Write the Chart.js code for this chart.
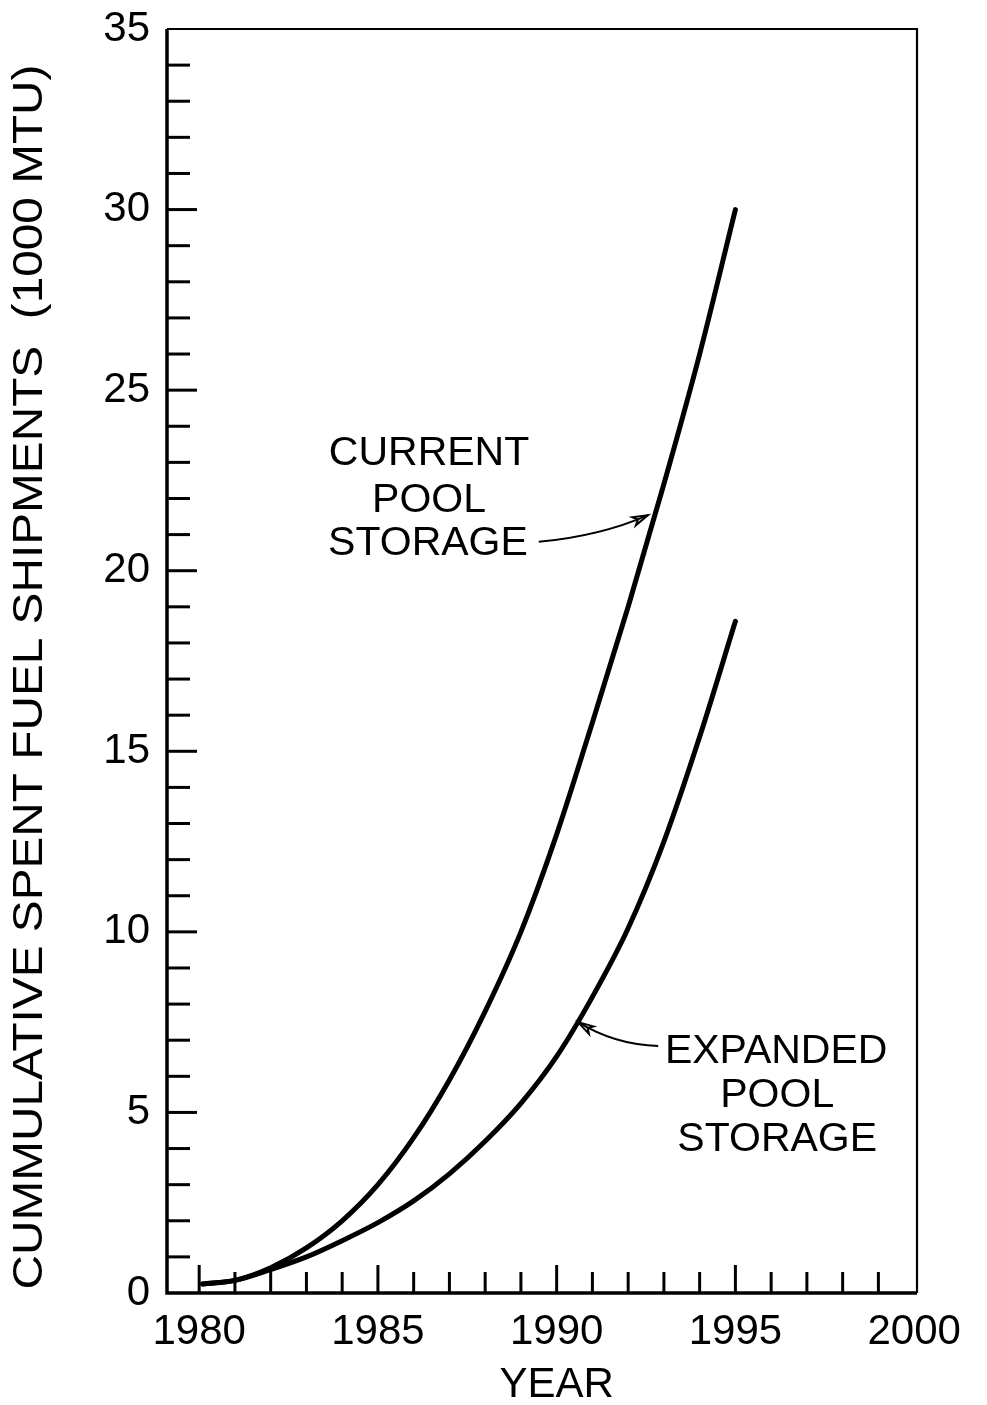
<!DOCTYPE html>
<html>
<head>
  <meta charset="utf-8">
  <title>Cummulative Spent Fuel Shipments</title>
  <script src="https://cdn.jsdelivr.net/npm/chart.js"></script>
  <style>
    html, body {
      margin: 0;
      padding: 0;
      background: #ffffff;
    }
  </style>
</head>
<body>
  <canvas id="fuelChart" width="987" height="1405"></canvas>

  <script>
    // values (1000 MTU)
    const years = [1980.1, 1981, 1982, 1983, 1984, 1985, 1986, 1987, 1988, 1989, 1990, 1991, 1992, 1993, 1994, 1995];
    const currentPool = [0.25, 0.35, 0.7, 1.25, 2.0, 3.0, 4.3, 5.9, 7.8, 10.0, 12.7, 15.8, 19.0, 22.4, 26.0, 30.0];
    const expandedPool = [0.25, 0.35, 0.65, 1.0, 1.45, 1.95, 2.55, 3.3, 4.2, 5.25, 6.55, 8.2, 10.1, 12.5, 15.4, 18.6];

    const xTickLabels = [1980, 1985, 1990, 1995, 2000];
    const yTickLabels = [0, 5, 10, 15, 20, 25, 30, 35];

    const xMinorTicks = [];
    for (let y = 1980; y <= 1999; y++) xMinorTicks.push(y);
    const yMinorTicks = [];
    for (let v = 1; v <= 34; v++) yMinorTicks.push(v);

    const FONT = '"Liberation Sans", Arial, sans-serif';

    function pts(vals) {
      return years.map((yr, i) => ({ x: yr, y: vals[i] }));
    }

    // axes frame, inward ticks, axis titles and the two callouts
    const paperPlugin = {
      id: 'paper',
      afterDraw(chart) {
        const ctx = chart.ctx;
        const xs = chart.scales.x, ys = chart.scales.y;
        const a = chart.chartArea;
        ctx.save();
        ctx.strokeStyle = '#000';
        ctx.fillStyle = '#000';
        ctx.lineCap = 'butt';

        // frame
        ctx.lineWidth = 3.5;
        ctx.beginPath();
        ctx.moveTo(a.left, a.top); ctx.lineTo(a.left, a.bottom); ctx.lineTo(a.right, a.bottom);
        ctx.stroke();
        ctx.lineWidth = 2.2;
        ctx.beginPath();
        ctx.moveTo(a.left, a.top); ctx.lineTo(a.right, a.top); ctx.lineTo(a.right, a.bottom);
        ctx.stroke();

        // y ticks
        ctx.lineWidth = 3;
        yMinorTicks.forEach(v => {
          const py = ys.getPixelForValue(v);
          const len = v % 5 === 0 ? 30 : 23;
          ctx.beginPath(); ctx.moveTo(a.left, py); ctx.lineTo(a.left + len, py); ctx.stroke();
        });
        // x ticks
        xMinorTicks.forEach(v => {
          const px = xs.getPixelForValue(v);
          const len = v % 5 === 0 ? 28 : 21;
          ctx.beginPath(); ctx.moveTo(px, a.bottom); ctx.lineTo(px, a.bottom - len); ctx.stroke();
        });

        // y title, squeezed to the length of the original lettering
        ctx.save();
        ctx.translate(30, 677);
        ctx.rotate(-Math.PI / 2);
        ctx.font = '42px ' + FONT;
        ctx.textAlign = 'center';
        ctx.textBaseline = 'middle';
        const title = 'CUMMULATIVE SPENT FUEL SHIPMENTS  (1000 MTU)';
        const w = ctx.measureText(title).width;
        ctx.scale(1225 / w, 1);
        ctx.fillText(title, 0, 0);
        ctx.restore();

        // x title
        ctx.font = '42px ' + FONT;
        ctx.textAlign = 'center';
        ctx.textBaseline = 'middle';
        ctx.fillText('YEAR', xs.getPixelForValue(1990), a.bottom + 92);

        // callout labels
        ctx.font = '41px ' + FONT;
        const labels = [
          ['CURRENT', 1986.43, 23.29], ['POOL', 1986.43, 21.99], ['STORAGE', 1986.40, 20.80],
          ['EXPANDED', 1996.14, 6.75], ['POOL', 1996.17, 5.53], ['STORAGE', 1996.17, 4.29]
        ];
        labels.forEach(([t, x, y]) => {
          ctx.fillText(t, xs.getPixelForValue(x), ys.getPixelForValue(y) + 2);
        });

        // callout arrows
        const arrows = [
          [[1989.50, 20.80], [1991.22, 20.96], [1992.56, 21.54]],
          [[1992.84, 6.84], [1991.64, 6.87], [1990.60, 7.50]]
        ];
        ctx.lineWidth = 2;
        arrows.forEach(([s, c, e]) => {
          const sx = xs.getPixelForValue(s[0]), sy = ys.getPixelForValue(s[1]);
          const cx = xs.getPixelForValue(c[0]), cy = ys.getPixelForValue(c[1]);
          const ex = xs.getPixelForValue(e[0]), ey = ys.getPixelForValue(e[1]);
          ctx.beginPath();
          ctx.moveTo(sx, sy);
          ctx.quadraticCurveTo(cx, cy, ex, ey);
          ctx.stroke();
          const ang = Math.atan2(ey - cy, ex - cx);
          const L = 16, W = 0.28;
          ctx.beginPath();
          ctx.moveTo(ex, ey);
          ctx.lineTo(ex - L * Math.cos(ang - W), ey - L * Math.sin(ang - W));
          ctx.lineTo(ex - L * 0.7 * Math.cos(ang), ey - L * 0.7 * Math.sin(ang));
          ctx.lineTo(ex - L * Math.cos(ang + W), ey - L * Math.sin(ang + W));
          ctx.closePath();
          ctx.stroke();
        });
        ctx.restore();
      }
    };

    const ctxFuel = document.getElementById('fuelChart').getContext('2d');
    const fuelChart = new Chart(ctxFuel, {
      type: 'line',
      data: {
        datasets: [
          {
            label: 'Current Pool Storage',
            data: pts(currentPool),
            borderColor: '#000',
            borderWidth: 5,
            borderCapStyle: 'round',
            pointRadius: 0,
            cubicInterpolationMode: 'monotone',
            fill: false
          },
          {
            label: 'Expanded Pool Storage',
            data: pts(expandedPool),
            borderColor: '#000',
            borderWidth: 5,
            borderCapStyle: 'round',
            pointRadius: 0,
            cubicInterpolationMode: 'monotone',
            fill: false
          }
        ]
      },
      options: {
        responsive: false,
        devicePixelRatio: 1,
        animation: false,
        layout: { padding: { left: 0, right: 70, top: 29, bottom: 0 } },
        plugins: {
          legend: { display: false },
          tooltip: { enabled: false }
        },
        scales: {
          x: {
            type: 'linear',
            min: 1979.1,
            max: 2000.08,
            grid: { display: false },
            border: { display: false },
            afterFit: s => { s.height = 112; },
            afterBuildTicks: s => { s.ticks = xTickLabels.map(v => ({ value: v })); },
            ticks: {
              autoSkip: false,
              maxRotation: 0,
              padding: 6,
              color: '#000',
              font: { size: 42, family: FONT },
              callback: v => String(v)
            }
          },
          y: {
            min: 0,
            max: 35,
            grid: { display: false },
            border: { display: false },
            afterFit: s => { s.width = 167; },
            afterBuildTicks: s => { s.ticks = yTickLabels.map(v => ({ value: v })); },
            ticks: {
              autoSkip: false,
              padding: 9,
              color: '#000',
              font: { size: 42, family: FONT, lineHeight: 0.8 },
              callback: v => String(v)
            }
          }
        }
      },
      plugins: [paperPlugin]
    });
  </script>
</body>
</html>
